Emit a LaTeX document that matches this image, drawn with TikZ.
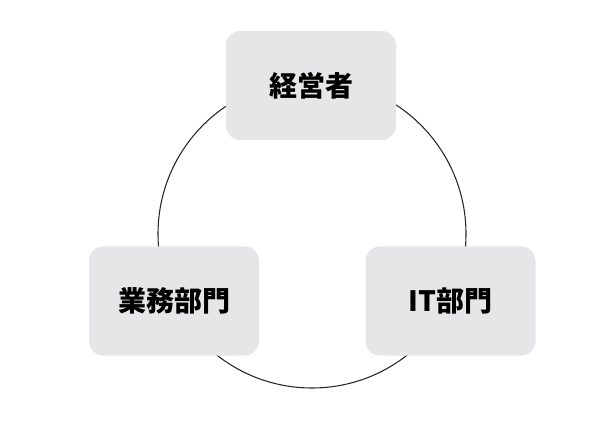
\documentclass[tikz,border=0pt]{standalone}
\usepackage{fontspec}
\usepackage{xcolor}
\usetikzlibrary{positioning}
\newfontfamily\jpfont{Noto Sans CJK JP}
\definecolor{boxgray}{HTML}{E6E5E7}

\begin{document}
\begin{tikzpicture}[x=0.75pt,y=-0.75pt,
        rolebox/.style={fill=boxgray, rounded corners=11pt,
            minimum width=127.5pt, minimum height=82pt,
            font=\jpfont\bfseries\fontsize{21}{24}\selectfont}]
            \useasboundingbox (0,0) rectangle (607,423);
            \draw[line width=0.8pt, color=black!85] (312,234) circle[radius=115.5pt];

            \node[rolebox] (keiei) at (311,85.5) {経営者};
            \node[rolebox] (gyomu) at (174,301) {業務部門};
            \node[rolebox] (itbu)  at (450.5,301) {IT部門};
        \end{tikzpicture}
\end{document}
